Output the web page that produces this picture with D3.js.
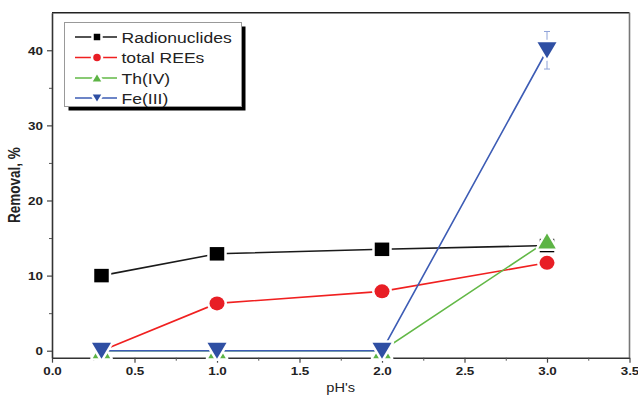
<!DOCTYPE html>
<html>
<head>
<meta charset="utf-8">
<script src="https://cdn.jsdelivr.net/npm/d3@7"></script>
<style>
  html, body { margin: 0; padding: 0; background: #fff; }
  svg { display: block; }
  text { font-family: Arial, "Liberation Sans", sans-serif; }
</style>
</head>
<body>
<svg id="chart" width="638" height="395"></svg>
<script>
// ---- data ----
const pH = [0.3, 1.0, 2.0, 3.0];
const seriesNames = ["Radionuclides", "total REEs", "Th(IV)", "Fe(III)"];
const radionuclides = [10.0, 12.9, 13.5, 14.0];
const totalREEs = [0.0, 6.3, 7.9, 11.7];
const thIV = [0.0, 0.0, 0.0, 14.6];
const feIII = [0.0, 0.0, 0.0, 40.0];
const feIIIErr = [0, 0, 0, 2.5];
const xTicks = [0.0, 0.5, 1.0, 1.5, 2.0, 2.5, 3.0, 3.5];
const yTicks = [0, 10, 20, 30, 40];
const xLabel = "pH's";
const yLabel = "Removal, %";

// ---- styling ----
const series = [
  { name: seriesNames[0], values: radionuclides, line: "#1a1a1a", fill: "#000000", shape: "square" },
  { name: seriesNames[1], values: totalREEs, line: "#f02020", fill: "#e81e25", shape: "circle" },
  { name: seriesNames[2], values: thIV, line: "#62b846", fill: "#5db445", shape: "up" },
  { name: seriesNames[3], values: feIII, line: "#3d5cb5", fill: "#2f4fa3", shape: "down", err: feIIIErr }
];

const L = 52, R = 629.5, T = 12.7, B = 357.7;
const SX = 1.17; // horizontal stretch of text in the original

const svg = d3.select("#chart");
const x = d3.scaleLinear().domain([0, 3.5]).range([L, R]);
const y = d3.scaleLinear().domain([-0.93, 45]).range([B, T]);

function shapePath(shape, w, h) {
  const hw = w / 2, hh = h / 2;
  if (shape === "square") return `M${-hw},${-hh}H${hw}V${hh}H${-hw}Z`;
  if (shape === "up") return `M0,${-hh}L${hw},${hh}L${-hw},${hh}Z`;
  if (shape === "down") return `M0,${hh}L${hw},${-hh}L${-hw},${-hh}Z`;
  return null;
}
function drawMarker(g, shape, cx, cy, w, h, fill, outline) {
  let el;
  if (shape === "circle") {
    el = g.append("ellipse").attr("cx", cx).attr("cy", cy).attr("rx", w / 2).attr("ry", h / 2);
  } else {
    el = g.append("path").attr("d", shapePath(shape, w, h))
      .attr("transform", `translate(${cx},${cy})`).attr("stroke-linejoin", "round");
  }
  el.attr("fill", fill).attr("stroke", "#fff").attr("stroke-width", outline)
    .style("paint-order", "stroke");
}
const markerSize = {
  square: [14.5, 13.5], circle: [15, 14], up: [17.5, 15], down: [19, 16]
};

// ---- axes ----
const xAxis = d3.axisBottom(x).tickValues(xTicks).tickSize(5).tickSizeOuter(0)
  .tickFormat(d3.format(".1f"));
const xMinor = d3.axisBottom(x).tickValues(d3.range(0.25, 3.5, 0.5)).tickSize(3).tickSizeOuter(0).tickFormat("");
const yAxis = d3.axisLeft(y).tickValues(yTicks).tickSize(5).tickSizeOuter(0).tickFormat(d3.format("d"));
const yMinor = d3.axisLeft(y).tickValues([5, 15, 25, 35]).tickSize(3).tickSizeOuter(0).tickFormat("");

// frame top and right
svg.append("line").attr("x1", L).attr("x2", R).attr("y1", T).attr("y2", T)
  .attr("stroke", "#222").attr("stroke-width", 1.6);
svg.append("line").attr("x1", R).attr("x2", R).attr("y1", T).attr("y2", B)
  .attr("stroke", "#777").attr("stroke-width", 1.6);

const gx = svg.append("g").attr("transform", `translate(0,${B})`).call(xAxis);
svg.append("g").attr("transform", `translate(0,${B})`).call(xMinor)
  .call(g => g.select(".domain").remove())
  .call(g => g.selectAll("line").attr("stroke", "#555").attr("stroke-width", 1));
const gy = svg.append("g").attr("transform", `translate(${L},0)`).call(yAxis);
svg.append("g").attr("transform", `translate(${L},0)`).call(yMinor)
  .call(g => g.select(".domain").remove())
  .call(g => g.selectAll("line").attr("stroke", "#555").attr("stroke-width", 1));

[gx, gy].forEach(g => {
  g.select(".domain").attr("stroke", "#333").attr("stroke-width", 1.6);
  g.selectAll(".tick line").attr("stroke", "#444").attr("stroke-width", 1.2);
  g.selectAll(".tick text").attr("font-size", 11.5).attr("font-weight", "bold")
    .attr("fill", "#222").attr("font-family", "Arial, 'Liberation Sans', sans-serif");
});
gx.selectAll(".tick text").attr("y", 0).attr("dy", 0)
  .attr("transform", `translate(0,17.3) scale(${SX},1)`);
gy.selectAll(".tick text").attr("x", 0).attr("dy", 0)
  .attr("transform", `translate(-9,4.2) scale(${SX},1)`);

// axis titles
svg.append("text").attr("transform", `translate(${(L + R) / 2},391.5) scale(${SX},1)`)
  .attr("text-anchor", "middle").attr("font-size", 12.5).attr("fill", "#222").text(xLabel);
svg.append("text").attr("transform", `translate(19.5,${(T + B) / 2}) rotate(-90) scale(1,${SX})`)
  .attr("text-anchor", "middle").attr("font-size", 13.5).attr("font-weight", "bold")
  .attr("fill", "#222").text(yLabel);

// ---- series ----
const line = d3.line().x((d, i) => x(pH[i])).y(d => y(d));
series.forEach(s => {
  const g = svg.append("g");
  g.append("path").datum(s.values).attr("d", line)
    .attr("fill", "none").attr("stroke", s.line).attr("stroke-width", 1.6);
  if (s.err) {
    s.values.forEach((v, i) => {
      const e = s.err[i];
      if (!e) return;
      const cx = x(pH[i]);
      const eg = g.append("g").attr("stroke", "#8ea2d8").attr("stroke-width", 1);
      eg.append("line").attr("x1", cx).attr("x2", cx).attr("y1", y(v + e)).attr("y2", y(v - e));
      eg.append("line").attr("x1", cx - 3).attr("x2", cx + 3).attr("y1", y(v + e)).attr("y2", y(v + e));
      eg.append("line").attr("x1", cx - 3).attr("x2", cx + 3).attr("y1", y(v - e)).attr("y2", y(v - e));
    });
  }
  const [w, h] = markerSize[s.shape];
  s.values.forEach((v, i) => drawMarker(g, s.shape, x(pH[i]), y(v), w, h, s.fill, 5));
});

// ---- legend ----
const lx = 64.5, ly = 22.5, lw = 177, lh = 84;
svg.append("rect").attr("x", lx + 4).attr("y", ly + 4).attr("width", lw).attr("height", lh).attr("fill", "#000");
svg.append("rect").attr("x", lx).attr("y", ly).attr("width", lw).attr("height", lh)
  .attr("fill", "#fff").attr("stroke", "#999").attr("stroke-width", 1);
const rowY = [37, 57.5, 78, 98];
const legSize = { square: [6.5, 6.5], circle: [7.5, 7.5], up: [8.5, 7], down: [8.5, 7] };
series.forEach((s, i) => {
  const cy = rowY[i];
  svg.append("line").attr("x1", 75).attr("x2", 117).attr("y1", cy).attr("y2", cy)
    .attr("stroke", s.line).attr("stroke-width", 1.6);
  const [w, h] = legSize[s.shape];
  drawMarker(svg, s.shape, 97, cy, w, h, s.fill, 5);
  svg.append("text").attr("transform", `translate(121.5,${cy + 5.5}) scale(${SX},1)`)
    .attr("font-size", 15).attr("fill", "#222").text(s.name);
});
</script>
</body>
</html>
